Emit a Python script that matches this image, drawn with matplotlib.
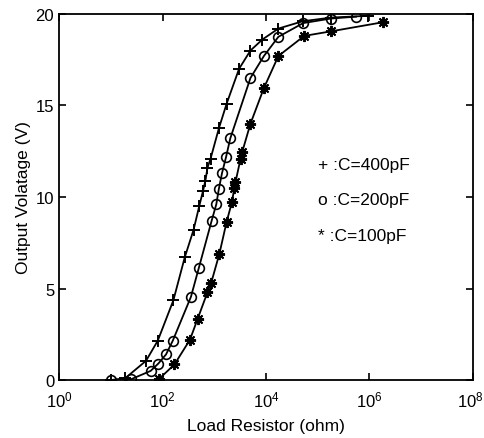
import matplotlib
matplotlib.use("Agg")
import matplotlib.pyplot as plt
import matplotlib.transforms as mtransforms
import numpy as np

plt.rcParams["font.family"] = ["Liberation Sans", "DejaVu Sans"]

# load resistance (ohm) and output voltage (V) for each capacitance
r_400 = [10, 19, 48, 81, 162, 269, 398, 513, 603, 676, 741, 851, 1230, 1738,
         3020, 5012, 8511, 17378, 51286, 181970, 955000]
v_400 = [0.0, 0.1, 1.05, 2.15, 4.35, 6.7, 8.2, 9.5, 10.3, 10.9, 11.6, 12.1,
         13.75, 15.1, 17.0, 18.0, 18.6, 19.2, 19.6, 19.8, 19.9]

r_200 = [10, 25, 59, 83, 117, 158, 355, 501, 891, 1096, 1230, 1413, 1698,
         2042, 5012, 9120, 17378, 52481, 181970, 549541]
v_200 = [0.0, 0.05, 0.5, 0.9, 1.4, 2.15, 4.55, 6.1, 8.7, 9.6, 10.45, 11.3,
         12.2, 13.2, 16.5, 17.7, 18.75, 19.5, 19.75, 19.85]

r_100 = [85, 170, 339, 479, 741, 871, 1259, 1738, 2188, 2455, 2570, 3236,
         3467, 5012, 9120, 17378, 54954, 181970, 1862087]
v_100 = [0.05, 0.85, 2.2, 3.35, 4.8, 5.3, 6.9, 8.65, 9.7, 10.5, 10.8, 12.1,
         12.45, 14.0, 15.95, 17.7, 18.8, 19.05, 19.55]

labels = ["+ :C=400pF", "o :C=200pF", "* :C=100pF"]

fig = plt.figure(figsize=(4.84, 4.39), dpi=100)
ax = fig.add_axes([0.122, 0.132, 0.855, 0.834])

ax.plot(r_400, v_400, color="black", lw=1.3, marker="+", ms=8, mew=1.4)
ax.plot(r_200, v_200, color="black", lw=1.3, marker="o", ms=7, mew=1.2,
        mfc="none")
ax.plot(r_100, v_100, color="black", lw=1.3, marker=(8, 2, 0), ms=8, mew=1.4)

ax.set_xscale("log")
ax.set_xlim(1, 1e8)
ax.set_ylim(0, 20)
ax.set_xticks([1, 1e2, 1e4, 1e6, 1e8])
ax.xaxis.set_minor_locator(matplotlib.ticker.NullLocator())
ax.set_yticks([0, 5, 10, 15, 20])

ax.tick_params(direction="in", top=True, right=True, labelsize=12,
               length=5, width=1.2)
ax.tick_params(axis="x", pad=7)
for s in ax.spines.values():
    s.set_linewidth(1.3)

# keep the 10^8 label inside the figure edge
last = ax.get_xticklabels()[-1]
last.set_transform(last.get_transform()
                   + mtransforms.ScaledTranslation(-0.03, 0, fig.dpi_scale_trans))

ax.set_xlabel("Load Resistor (ohm)", fontsize=12.5, labelpad=6)
ax.set_ylabel("Output Volatage (V)", fontsize=12.5, labelpad=3)

for i, t in enumerate(labels):
    ax.text(0.625, 0.59 - i * 0.097, t, transform=ax.transAxes,
            fontsize=12.5, va="center", ha="left")

fig.savefig("out.png", dpi=100)
